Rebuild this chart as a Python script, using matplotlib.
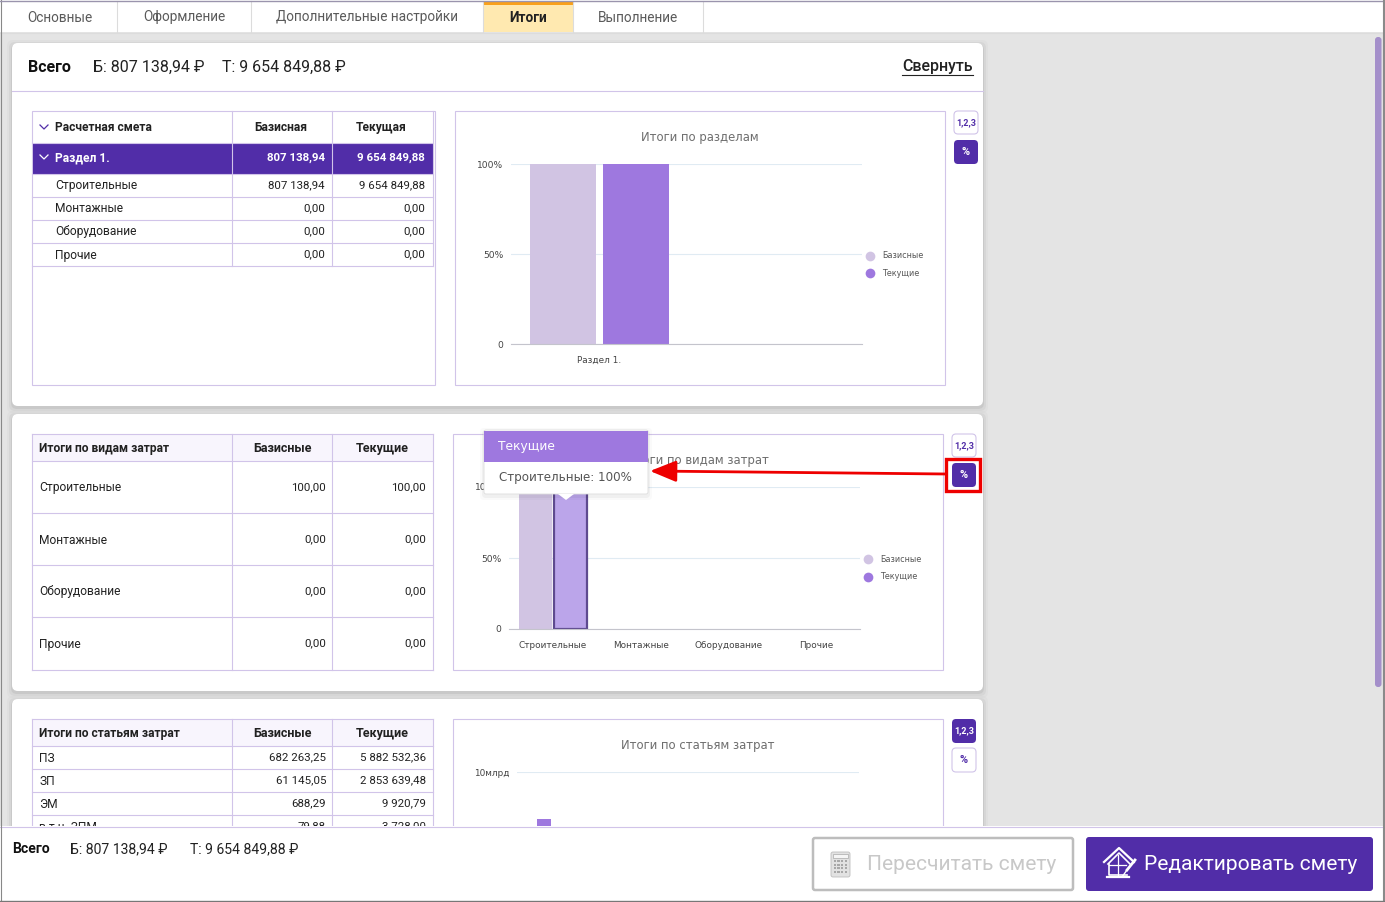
"""Estimate summary screen: cards with tables and bar charts, footer with buttons."""
import matplotlib
matplotlib.use("Agg")
import matplotlib.pyplot as plt
from matplotlib.lines import Line2D
from matplotlib.patches import FancyBboxPatch, Polygon, Rectangle

W, H = 1385, 902
PURPLE = "#512da8"
LINE = "#d1c4e9"
BASE_C = "#d1c4e3"
CUR_C = "#9e78df"
GRID_C = "#e0ebf3"
UI = ["Roboto", "DejaVu Sans"]
CH = ["DejaVu Sans"]
LW = 0.8

tab_labels = ["Основные", "Оформление", "Дополнительные настройки", "Итоги", "Выполнение"]

top_title = "Всего"
top_base = "Б: 807 138,94 ₽"
top_cur = "Т: 9 654 849,88 ₽"

t1_head = ["Расчетная смета", "Базисная", "Текущая"]
t1_section = ["Раздел 1.", "807 138,94", "9 654 849,88"]
t1_rows = ["Строительные", "Монтажные", "Оборудование", "Прочие"]
t1_base = ["807 138,94", "0,00", "0,00", "0,00"]
t1_cur = ["9 654 849,88", "0,00", "0,00", "0,00"]

t2_head = ["Итоги по видам затрат", "Базисные", "Текущие"]
t2_rows = ["Строительные", "Монтажные", "Оборудование", "Прочие"]
t2_base = ["100,00", "0,00", "0,00", "0,00"]
t2_cur = ["100,00", "0,00", "0,00", "0,00"]

t3_head = ["Итоги по статьям затрат", "Базисные", "Текущие"]
t3_rows = ["ПЗ", "ЗП", "ЭМ", "в т.ч. ЗПМ"]
t3_base = ["682 263,25", "61 145,05", "688,29", "79,88"]
t3_cur = ["5 882 532,36", "2 853 639,48", "9 920,79", "3 728,00"]

c1_cats = ["Раздел 1."]
c1_base = [100]
c1_cur = [100]

c2_cats = ["Строительные", "Монтажные", "Оборудование", "Прочие"]
c2_base = [100, 0, 0, 0]
c2_cur = [100, 0, 0, 0]

c3_base = [682263.25]
c3_cur = [5882532.36]

fig = plt.figure(figsize=(W / 100, H / 100), dpi=100, facecolor="#e4e4e4")


def layer(z):
    ax = fig.add_axes([0, 0, 1, 1], zorder=z)
    ax.set_xlim(0, W)
    ax.set_ylim(H, 0)
    ax.axis("off")
    ax.patch.set_alpha(0)
    return ax


bg = layer(0)
top = layer(5)


def rect(ax, x0, y0, x1, y1, fc="none", ec="none", lw=LW, z=2):
    ax.add_patch(Rectangle((x0, y0), x1 - x0, y1 - y0, fc=fc, ec=ec, lw=lw, zorder=z))


def rrect(ax, x0, y0, x1, y1, r=4, fc="white", ec="none", lw=LW, z=2):
    ax.add_patch(FancyBboxPatch((x0 + r, y0 + r), x1 - x0 - 2 * r, y1 - y0 - 2 * r,
                                boxstyle=f"round,pad={r},rounding_size={r}",
                                fc=fc, ec=ec, lw=lw, zorder=z))


def txt(ax, x, y, s, px=12, color="#212121", ha="left", bold=False, fam=UI, z=6, **kw):
    return ax.text(x, y, s, fontsize=px * 0.72, color=color, ha=ha, va="center",
                   fontweight="bold" if bold else "normal", family=fam, zorder=z, **kw)


def chevron(ax, x, y, color):
    ax.plot([x - 4, x, x + 4], [y - 2, y + 2, y - 2], color=color, lw=0.9, zorder=6)


def card(y0, y1):
    # soft shadow
    for i, a in ((5, 0.02), (3, 0.04), (1, 0.06)):
        rrect(bg, 12 - i, y0 - i + 2, 983 + i, y1 + i + 2, r=6, fc=(0, 0, 0, a), z=1)
    rrect(bg, 12, y0, 983, y1, r=6, z=2)


def table(x0, y0, col1, col2, x1, heads, names, base, cur, ys, head_x):
    rect(bg, x0, y0, x1, ys[0], fc="#f8f5fd", z=3)
    for y in [y0] + ys:
        bg.plot([x0, x1], [y, y], color=LINE, lw=LW, zorder=4)
    for x in (x0, col1, col2, x1):
        bg.plot([x, x], [y0, ys[-1]], color=LINE, lw=LW, zorder=4)
    ym = (y0 + ys[0]) / 2 + 1
    txt(bg, head_x, ym, heads[0], 12, bold=True)
    txt(bg, (col1 + col2) / 2, ym, heads[1], 12.5, bold=True, ha="center")
    txt(bg, (col2 + x1) / 2, ym, heads[2], 12.5, bold=True, ha="center")
    prev = ys[0]
    for n, b, c, y in zip(names, base, cur, ys[1:]):
        ym = (prev + y) / 2
        txt(bg, x0 + 7, ym + 1, n, 12)
        txt(bg, col2 - 6, ym, b, 11.5, ha="right")
        txt(bg, x1 - 7, ym, c, 11.5, ha="right")
        prev = y


def toggle(x0, y0, x1, y1, label, active):
    px = 11 if label == "%" else 9
    if active:
        rrect(bg, x0, y0, x1, y1, r=4, fc=PURPLE, z=4)
        txt(bg, (x0 + x1) / 2, (y0 + y1) / 2, label, px, color="white", ha="center", bold=True)
    else:
        rrect(bg, x0, y0, x1, y1, r=4, fc="white", ec=LINE, z=4)
        txt(bg, (x0 + x1) / 2, (y0 + y1) / 2, label, px, color=PURPLE, ha="center", bold=True)


def chart(px0, px1, ptop, pbot, xlim, xs_base, xs_cur, base, cur, width):
    ax = fig.add_axes([px0 / W, 1 - pbot / H, (px1 - px0) / W, (pbot - ptop) / H], zorder=2)
    ax.patch.set_alpha(0)
    bars_b = ax.bar(xs_base, base, width=width, color=BASE_C, zorder=2)
    bars_c = ax.bar(xs_cur, cur, width=width, color=CUR_C, zorder=2)
    ax.set_xlim(*xlim)
    for s in ("top", "left", "right"):
        ax.spines[s].set_visible(False)
    ax.spines["bottom"].set_color("#c4c4cc")
    ax.spines["bottom"].set_linewidth(LW)
    ax.tick_params(axis="both", length=0)
    ax.yaxis.grid(True, color=GRID_C, lw=LW, zorder=0)
    ax.set_axisbelow(True)
    return ax, bars_b, bars_c


def pct_axis(ax):
    ax.set_ylim(0, 100)
    ax.set_yticks([0, 50, 100])
    ax.set_yticklabels(["0", "50%", "100%"], fontsize=6.6, color="#444444", family=CH)
    ax.tick_params(axis="y", pad=5.5)
    ax.tick_params(axis="x", pad=8.5, labelsize=6.4, labelcolor="#444444")
    for lab in ax.get_xticklabels():
        lab.set_family(CH)


def legend(ax, anchor):
    handles = [
        Line2D([0], [0], marker="o", color="none", mfc=BASE_C, mec="none", ms=7, label="Базисные"),
        Line2D([0], [0], marker="o", color="none", mfc=CUR_C, mec="none", ms=7, label="Текущие"),
    ]
    ax.legend(handles=handles, loc="center left", bbox_to_anchor=anchor, frameon=False,
              prop={"family": CH, "size": 5.8}, labelcolor="#555555", labelspacing=1.1,
              handletextpad=1.05, borderpad=0, handlelength=1.0)


# tabs
rect(bg, 0, 0, W, 32, fc="white", z=1)
bg.plot([0, W], [32.5, 32.5], color="#dcdcdc", lw=LW, zorder=2)
tab_edges = [1, 117, 251, 483, 573, 703]
for i, lab in enumerate(tab_labels):
    x0, x1 = tab_edges[i], tab_edges[i + 1]
    if lab == "Итоги":
        rect(bg, x0 + 1, 2, x1, 32, fc="#ffe9b0", z=2)
        rect(bg, x0 + 1, 1, x1, 5, fc="#f9a01b", z=3)
    txt(bg, (x0 + x1) / 2 + (1 if i == 0 else 0), 17.5, lab, 13.6,
        color="#212121" if lab == "Итоги" else "#5a5a5a", ha="center", bold=lab == "Итоги")
    bg.plot([x1, x1], [1, 32], color="#dcdcdc", lw=LW, zorder=4)

# scrollbar
rrect(bg, 1375, 37, 1381.5, 687, r=3, fc="#a48fca", z=2)

# card 1
card(43, 406)
txt(bg, 28, 67, top_title, 16, color="#111111", bold=True)
txt(bg, 93, 67, top_base, 16, color="#222222")
txt(bg, 222, 67, top_cur, 16, color="#222222")
bg.text(973, 67, "Свернуть", fontsize=16 * 0.72, color="#222222", ha="right", va="center",
        family=UI, fontweight="medium", zorder=6)
bg.plot([902, 973], [75, 75], color="#222222", lw=LW, zorder=6)
bg.plot([12, 983], [91, 91], color=LINE, lw=LW, zorder=4)

# table 1
rect(bg, 32, 111, 435, 385, fc="white", ec=LINE, z=3)
rect(bg, 33, 143, 433, 174, fc=PURPLE, z=4)
t1_ys = [143, 174, 197, 220, 243, 266]
for y in t1_ys:
    bg.plot([32, 433], [y, y], color=LINE, lw=LW, zorder=5)
bg.plot([433, 433], [111, 266], color=LINE, lw=LW, zorder=5)
for x in (232, 332):
    bg.plot([x, x], [111, 266], color=LINE, lw=LW, zorder=5)
chevron(bg, 44, 127, PURPLE)
chevron(bg, 44, 157, "white")
txt(bg, 55, 127.5, t1_head[0], 12, bold=True)
txt(bg, 281, 127.5, t1_head[1], 12, bold=True, ha="center")
txt(bg, 381, 127.5, t1_head[2], 12, bold=True, ha="center")
txt(bg, 55, 158, t1_section[0], 12, color="white", bold=True)
txt(bg, 325, 158, t1_section[1], 11.5, color="white", bold=True, ha="right")
txt(bg, 425, 158, t1_section[2], 11.5, color="white", bold=True, ha="right")
for n, b, c, y in zip(t1_rows, t1_base, t1_cur, (186, 209, 232, 255)):
    txt(bg, 55, y, n, 12)
    txt(bg, 325, y - 1, b, 11.5, ha="right")
    txt(bg, 425, y - 1, c, 11.5, ha="right")

# chart 1
rect(bg, 455, 111, 945, 385, fc="white", ec=LINE, z=3)
txt(bg, 700, 137, "Итоги по разделам", 11.6, color="#6e6e6e", ha="center", fam=CH)
x_c1 = list(range(len(c1_cats)))
ax1, _, _ = chart(511, 862, 164, 344, (-0.5, 1.5),
                  [x - 0.205 for x in x_c1], [x + 0.21 for x in x_c1], c1_base, c1_cur, 0.376)
ax1.set_xticks(x_c1, c1_cats)
pct_axis(ax1)
legend(ax1, (1.0, 0.44))
toggle(954, 111, 978, 134, "1,2,3", False)
toggle(954, 140, 978, 164, "%", True)

# card 2
card(414, 691)
table(32, 434, 232, 332, 433, t2_head, t2_rows, t2_base, t2_cur, [461, 513, 565, 617, 670], 39)
rect(bg, 453, 434, 943, 670, fc="white", ec=LINE, z=3)
txt(bg, 698, 460.5, "Итоги по видам затрат", 11.6, color="#6e6e6e", ha="center", fam=CH)
x_c2 = list(range(len(c2_cats)))
ax2, _, bars_c2 = chart(509, 860, 487, 629, (-0.5, 3.5),
                        [x - 0.2 for x in x_c2], [x + 0.2 for x in x_c2], c2_base, c2_cur, 0.37)
bars_c2[0].set_facecolor("#bba5ea")
bars_c2[0].set_edgecolor("#5e4a8f")
bars_c2[0].set_linewidth(1.6)
ax2.set_xticks(x_c2, c2_cats)
pct_axis(ax2)
legend(ax2, (1.0, 0.43))
toggle(952, 434, 976, 457, "1,2,3", False)
toggle(952, 463, 976, 487, "%", True)

# card 3
card(699, 960)
table(32, 719, 232, 332, 433, t3_head, t3_rows, t3_base, t3_cur, [746, 769, 792, 815, 838], 39)
rect(bg, 453, 719, 943, 900, fc="white", ec=LINE, z=3)
txt(bg, 698, 745, "Итоги по статьям затрат", 11.6, color="#6e6e6e", ha="center", fam=CH)
# log axis, the part below the footer line stays hidden
ax3, _, _ = chart(517, 859, 772, 900, (-0.5, 8.5), [-0.19], [0.22], c3_base, c3_cur, 0.37)
ax3.set_yscale("log")
ax3.set_ylim(10 ** 1.17, 1e10)
ax3.set_yticks([1e6, 1e10])
ax3.set_yticklabels(["1млн", "10млрд"], fontsize=6.4, color="#444444", family=CH)
ax3.minorticks_off()
ax3.tick_params(axis="y", pad=5.5, length=0)
ax3.set_xticks([])
toggle(952, 719, 976, 743, "1,2,3", True)
toggle(952, 748, 976, 772, "%", False)

# tooltip
for i, a in ((4, 0.02), (2, 0.04)):
    rrect(top, 484 - i, 430 - i + 2, 648 + i, 494 + i + 2, r=4, fc=(0, 0, 0, a), z=1)
rrect(top, 484, 430, 648, 494, r=2, fc="white", ec="#dddddd", lw=0.6, z=2)
rect(top, 484, 430.5, 648, 462, fc=CUR_C, z=3)
top.add_patch(Polygon([[558, 494], [574, 494], [566, 500]], fc="white", ec="none", zorder=3))
txt(top, 498, 446.5, "Текущие", 12.2, color="white", fam=CH)
txt(top, 499, 478, "Строительные: 100%", 11.9, color="#555555", fam=CH)

# red annotation
rect(top, 946, 459, 980, 491, ec="#ee0000", lw=2.4, z=6)
top.annotate("", xy=(650, 471), xytext=(946, 474), zorder=6,
             arrowprops=dict(arrowstyle="-|>,head_length=1.6,head_width=0.65", color="#ee0000", lw=2.0,
                             shrinkA=0, shrinkB=0))

# footer
rect(top, 0, 826, W, H, fc="white", z=7)
top.plot([0, W], [826.5, 826.5], color=LINE, lw=LW, zorder=8)
txt(top, 12, 849, top_title, 14, color="#111111", bold=True, z=9)
txt(top, 70, 849, top_base, 14, color="#222222", z=9)
txt(top, 190, 849, top_cur, 14, color="#222222", z=9)

rrect(top, 813, 838, 1073, 890, r=2, fc="white", ec="#bdbdbd", lw=1.8, z=8)
rrect(top, 831, 852, 850, 877, r=2, fc="#e2e2e2", ec="#bdbdbd", lw=0.6, z=9)
rect(top, 833, 854, 848, 858, fc="#f5f5f5", ec="#aaaaaa", lw=0.5, z=10)
for row in range(4):
    for col in range(4):
        rect(top, 833.5 + col * 3.7, 860 + row * 3.6, 836 + col * 3.7, 862 + row * 3.6, fc="#a8a8a8", z=10)
txt(top, 867, 865, "Пересчитать смету", 21, color="#c8c8c8", z=9)

rrect(top, 1086, 837, 1373, 891, r=3, fc=PURPLE, z=8)
# house icon
top.plot([1104, 1119, 1134], [862, 848, 862], color="white", lw=1.6, zorder=9)
top.plot([1108, 1119, 1130], [864, 853, 864], color="white", lw=1.2, zorder=9)
top.plot([1109, 1109, 1127], [864, 875, 875], color="white", lw=1.2, zorder=9)
top.plot([1107, 1129], [876.5, 876.5], color="white", lw=1.6, zorder=9)
top.plot([1118, 1118], [855, 875], color="white", lw=0.9, zorder=9)
top.plot([1109, 1126], [865, 865], color="white", lw=0.9, zorder=9)
top.plot([1127, 1135], [870, 860], color="white", lw=2.0, zorder=9)
top.plot([1122, 1127], [877, 870], color="white", lw=1.0, zorder=9)
txt(top, 1144, 865, "Редактировать смету", 21, color="white", z=9)

# window frame
top.plot([0.5, 0.5], [0, H], color="#888888", lw=LW, zorder=12)
top.plot([0, W], [0.5, 0.5], color="#9a94ad", lw=1.0, zorder=12)
top.plot([1383.8, 1383.8], [0, H], color="#8a8a8a", lw=1.5, zorder=12)
top.plot([0, W], [901.4, 901.4], color="#777777", lw=1.0, zorder=12)

fig.savefig("out.png", dpi=100, facecolor=fig.get_facecolor())
